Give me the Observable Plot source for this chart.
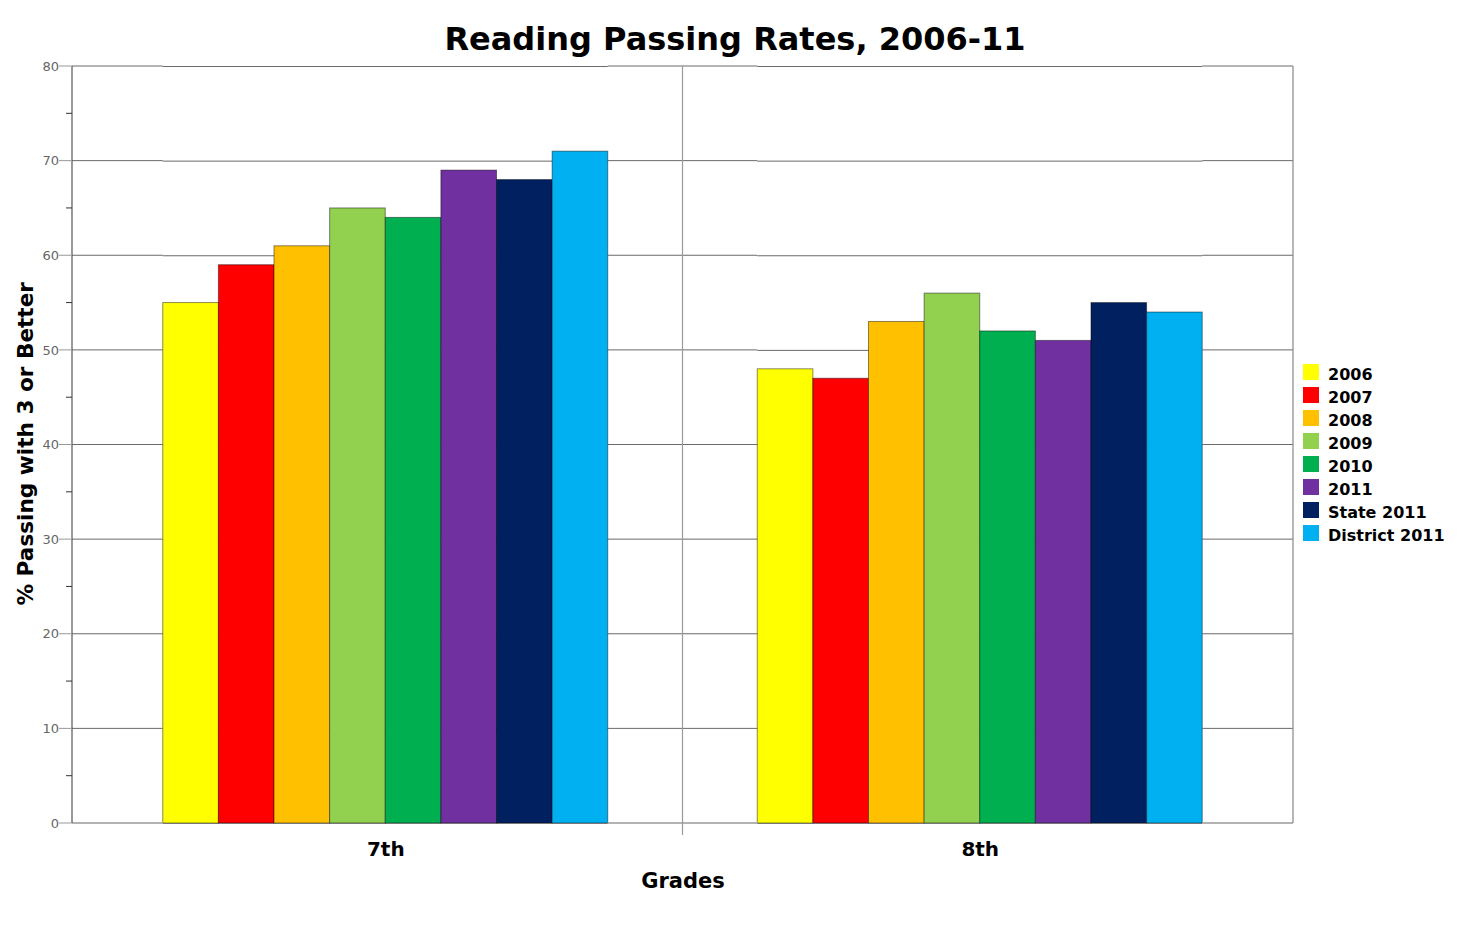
<!DOCTYPE html>
<html>
<head>
<meta charset="utf-8">
<script src="https://cdn.jsdelivr.net/npm/d3@7"></script>
<script src="https://cdn.jsdelivr.net/npm/@observablehq/plot@0.6"></script>
<style>
  body { margin: 0; background: #fff; font-family: "DejaVu Sans", sans-serif; }
  #wrap { position: relative; width: 1472px; height: 932px; overflow: hidden; }
  #chart { position: absolute; left: 0; top: 0; }
  #title { position: absolute; left: 0; width: 1470px; top: 22.5px; text-align: center;
           font: bold 32px/32px "DejaVu Sans", sans-serif; color: #000; white-space: nowrap; }
  #ylabel { position: absolute; left: -174.5px; width: 400px; top: 432.7px; text-align: center;
            font: bold 21.6px/21.6px "DejaVu Sans", sans-serif; transform: rotate(-90deg); transform-origin: 50% 50%; white-space: nowrap; }
  #xlabel { position: absolute; left: 583px; width: 200px; top: 871px; text-align: center;
            font: bold 21px/21px "DejaVu Sans", sans-serif; }
  #legend { position: absolute; left: 1303px; top: 364px; }
  .row { position: relative; height: 23px; }
  .sw { position: absolute; left: 0; top: 0; width: 16px; height: 16px; }
  .lt { position: absolute; left: 25px; top: 2.5px; font: bold 16px/16px "DejaVu Sans", sans-serif; white-space: nowrap; color: #000; }
</style>
</head>
<body>
<div id="wrap">
  <div id="chart"></div>
  <div id="title">Reading Passing Rates, 2006-11</div>
  <div id="ylabel">% Passing with 3 or Better</div>
  <div id="xlabel">Grades</div>
  <div id="legend"></div>
</div>
<script>
// ---- data ----
const grades = ["7th", "8th"];
const series = ["2006", "2007", "2008", "2009", "2010", "2011", "State 2011", "District 2011"];
const seriesColors = ["#ffff00", "#ff0000", "#ffc000", "#92d050", "#00b050", "#7030a0", "#002060", "#00b0f0"];
const values7th = [55, 59, 61, 65, 64, 69, 68, 71];
const values8th = [48, 47, 53, 56, 52, 51, 55, 54];
const yTicks = [0, 10, 20, 30, 40, 50, 60, 70, 80];
const yMinorTicks = [5, 15, 25, 35, 45, 55, 65, 75];

const valuesByGrade = {"7th": values7th, "8th": values8th};
const rows = grades.flatMap(g => series.map((s, i) => ({grade: g, series: s, value: valuesByGrade[g][i]})));

const W = 1472, H = 932;
const M = {left: 72, right: 179, top: 66, bottom: 109};
const fxPadInner = 0.2515, fxPadOuter = 0.1527;
const gridColor = "#6a6a6a";

function backdrop(index, scales, values, dim, context) {
  const doc = context.document;
  const NS = "http://www.w3.org/2000/svg";
  const g = doc.createElementNS(NS, "g");
  const add = (tag, attrs, text) => {
    const e = doc.createElementNS(NS, tag);
    for (const k in attrs) e.setAttribute(k, attrs[k]);
    if (text != null) e.textContent = text;
    g.appendChild(e);
    return e;
  };
  const left = M.left, right = W - M.right;
  const y = scales.y || d3.scaleLinear([0, 80], [H - M.bottom, M.top]);
  const fx = scales.fx || d3.scaleBand(grades, [left, right]).paddingInner(fxPadInner).paddingOuter(fxPadOuter);
  const bw = fx.bandwidth();
  const gaps = [[left, fx(grades[0])], [fx(grades[0]) + bw, fx(grades[1])], [fx(grades[1]) + bw, right]];
  // gridline segments in the gaps between bar groups
  for (const t of yTicks) {
    for (const [a, b] of gaps) {
      add("line", {x1: a, x2: b, y1: y(t), y2: y(t), stroke: t === 0 ? "#9a9a9a" : gridColor, "stroke-width": t === 0 ? 1.3 : 1});
    }
  }
  const yb = y(0), yt = y(80);
  // right border
  add("line", {x1: right, x2: right, y1: yt, y2: yb, stroke: "#909090", "stroke-width": 1.3});
  // divider between groups
  const xm = (fx(grades[0]) + bw + fx(grades[1])) / 2;
  add("line", {x1: xm, x2: xm, y1: yt, y2: yb + 12, stroke: "#9a9a9a", "stroke-width": 1.2});
  // y axis line
  add("line", {x1: left, x2: left, y1: yt, y2: yb, stroke: "#555", "stroke-width": 1.2});
  // ticks
  for (const t of yTicks) {
    add("line", {x1: left - 13, x2: left, y1: y(t), y2: y(t), stroke: "#999"});
    add("text", {x: left - 13, y: y(t), dy: "0.36em", "text-anchor": "end",
      style: "font-family:'DejaVu Sans';font-size:13px;fill:#666"}, String(t));
  }
  for (const t of yMinorTicks) {
    add("line", {x1: left - 6, x2: left, y1: y(t), y2: y(t), stroke: "#333"});
  }
  return g;
}

const chart = Plot.plot({
  width: W,
  height: H,
  marginLeft: M.left,
  marginRight: M.right,
  marginTop: M.top,
  marginBottom: M.bottom,
  style: {background: "transparent", fontFamily: "DejaVu Sans"},
  fx: {domain: grades, paddingInner: fxPadInner, paddingOuter: fxPadOuter, round: false, axis: null, label: null},
  x: {domain: series, padding: 0, round: false, axis: null},
  y: {domain: [0, 80], axis: null},
  color: {domain: series, range: seriesColors},
  marks: [
    Plot.ruleY(yTicks, {stroke: d => d === 0 ? "#9a9a9a" : gridColor}),
    Plot.barY(rows, {fx: "grade", x: "series", y: "value", fill: "series", stroke: "#000", strokeOpacity: 0.45, strokeWidth: 1}),
    Plot.frame({facet: "super", stroke: "none", render: backdrop}),
    Plot.axisFx({anchor: "bottom", tickSize: 0, tickPadding: 18, label: null, fontSize: 20, fontWeight: "bold", fill: "#000"})
  ]
});
document.getElementById("chart").appendChild(chart);

// legend
const legend = document.getElementById("legend");
series.forEach((s, i) => {
  const row = document.createElement("div");
  row.className = "row";
  const sw = document.createElement("div");
  sw.className = "sw";
  sw.style.background = seriesColors[i];
  const lt = document.createElement("div");
  lt.className = "lt";
  lt.textContent = s;
  row.appendChild(sw);
  row.appendChild(lt);
  legend.appendChild(row);
});
</script>
</body>
</html>
